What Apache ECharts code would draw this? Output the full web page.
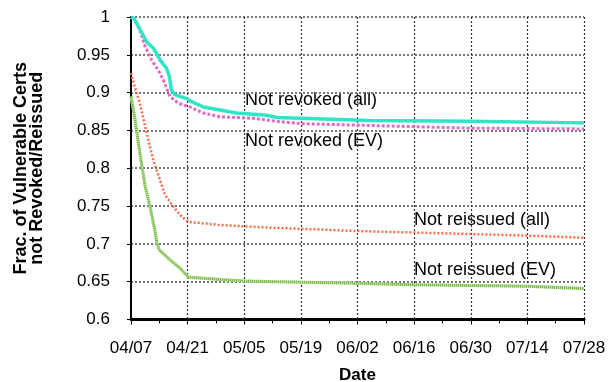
<!DOCTYPE html>
<html>
<head>
<meta charset="utf-8">
<script src="https://cdn.jsdelivr.net/npm/echarts@6/dist/echarts.min.js"></script>
<style>
  html, body { margin: 0; padding: 0; background: #fff; }
  #chart { width: 608px; height: 382px; }
</style>
</head>
<body>
<div id="chart"></div>
<script>
// days since 04/07 (x) and fraction still vulnerable (y)
const revokedAllDays = [0, 1, 3.9, 5.5, 6.3, 7.2, 8.8, 9.5, 10, 10.9, 13.8, 15, 17.9, 22, 26.1, 33.5, 36, 41.8, 59, 83.8, 112]
const revokedAllVals = [1.0, 0.996, 0.967, 0.959, 0.952, 0.943, 0.932, 0.921, 0.903, 0.897, 0.892, 0.888, 0.881, 0.877, 0.873, 0.870, 0.867, 0.866, 0.863, 0.862, 0.860]

const revokedEvDays = [0.4, 2.2, 3.5, 5.1, 6.7, 8, 9.6, 11.7, 14.6, 17.9, 22, 30.2, 36, 41.8, 69.8, 83.8, 112]
const revokedEvVals = [1.0, 0.983, 0.961, 0.943, 0.930, 0.917, 0.895, 0.886, 0.881, 0.873, 0.868, 0.866, 0.862, 0.859, 0.855, 0.853, 0.852]

const reissuedAllDays = [0, 1, 2.2, 3.3, 4.3, 5.5, 7.2, 8.4, 10.5, 12.5, 14.2, 22, 28.6, 36, 41.8, 55.8, 69.8, 97.8, 112]
const reissuedAllVals = [0.926, 0.906, 0.886, 0.860, 0.837, 0.811, 0.784, 0.765, 0.749, 0.736, 0.729, 0.725, 0.723, 0.721, 0.720, 0.717, 0.715, 0.711, 0.708]

const reissuedEvDays = [0, 1, 2.2, 3.5, 4.7, 5.9, 6.4, 7, 9.6, 12.1, 14.2, 22, 27.8, 36, 55.8, 69.8, 97.8, 112]
const reissuedEvVals = [0.895, 0.864, 0.820, 0.776, 0.749, 0.718, 0.701, 0.692, 0.679, 0.668, 0.656, 0.653, 0.651, 0.650, 0.648, 0.646, 0.644, 0.641]

const seriesLabels = ['Not revoked (all)', 'Not revoked (EV)', 'Not reissued (all)', 'Not reissued (EV)']

const FONT = '"Liberation Sans", Arial, Helvetica, sans-serif'

function pairs(xs, ys) {
  return xs.map((x, i) => [x, ys[i]])
}

function fmtDate(d) {
  const dt = new Date(2014, 3, 7 + Math.round(d))
  const mm = String(dt.getMonth() + 1).padStart(2, '0')
  const dd = String(dt.getDate()).padStart(2, '0')
  return mm + '/' + dd
}

const chart = echarts.init(document.getElementById('chart'), null, { renderer: 'canvas' })

const option = {
  animation: false,
  backgroundColor: '#fff',
  grid: { left: 131, right: 24, top: 17, bottom: 62.5, outerBoundsMode: 'none', containLabel: false },
  xAxis: {
    type: 'value',
    min: 0,
    max: 112,
    interval: 14,
    name: 'Date',
    nameLocation: 'middle',
    nameGap: 47,
    nameTextStyle: { fontFamily: FONT, fontSize: 17, fontWeight: 'bold', color: '#000' },
    axisLine: { show: true, onZero: false, lineStyle: { color: '#000', width: 3 } },
    axisTick: { show: true, length: 5, lineStyle: { color: '#000' } },
    minorTick: { show: true, splitNumber: 2, length: 4, lineStyle: { color: '#000' } },
    axisLabel: { fontFamily: FONT, fontSize: 17, color: '#000', margin: 20, formatter: fmtDate },
    splitLine: { show: true, showMinLine: false, lineStyle: { type: [2, 2], color: '#333', width: 1.2 } }
  },
  yAxis: {
    type: 'value',
    min: 0.6,
    max: 1,
    interval: 0.05,
    name: 'Frac. of Vulnerable Certs\nnot Revoked/Reissued',
    nameLocation: 'middle',
    nameGap: 86,
    nameTextStyle: { fontFamily: FONT, fontSize: 18, fontWeight: 'bold', color: '#000', lineHeight: 16, align: 'center' },
    axisLine: { show: true, onZero: false, lineStyle: { color: '#000', width: 2 } },
    axisTick: { show: true, length: 4, lineStyle: { color: '#000' } },
    axisLabel: {
      fontFamily: FONT, fontSize: 17, color: '#000', margin: 21,
      formatter: v => String(+v.toFixed(2))
    },
    splitLine: { show: true, showMinLine: false, lineStyle: { type: [2, 2], color: '#777', width: 2 } }
  },
  graphic: [
    { type: 'text', x: 245, y: 100, style: { text: seriesLabels[0], font: '18px ' + FONT, fill: '#000', textVerticalAlign: 'middle' } },
    { type: 'text', x: 245, y: 141.5, style: { text: seriesLabels[1], font: '18px ' + FONT, fill: '#000', textVerticalAlign: 'middle' } },
    { type: 'text', x: 414, y: 220, style: { text: seriesLabels[2], font: '18px ' + FONT, fill: '#000', textVerticalAlign: 'middle' } },
    { type: 'text', x: 414, y: 270.5, style: { text: seriesLabels[3], font: '18px ' + FONT, fill: '#000', textVerticalAlign: 'middle' } }
  ],
  series: [
    {
      name: seriesLabels[3] + ' band',
      type: 'line',
      data: pairs(reissuedEvDays, reissuedEvVals),
      showSymbol: false,
      lineStyle: { color: '#bfe3a6', width: 3 }
    },
    {
      name: seriesLabels[3],
      type: 'line',
      data: pairs(reissuedEvDays, reissuedEvVals),
      showSymbol: false,
      lineStyle: { color: '#72b83e', width: 3, type: [1, 1] }
    },
    {
      name: seriesLabels[2],
      type: 'line',
      data: pairs(reissuedAllDays, reissuedAllVals),
      showSymbol: false,
      lineStyle: { color: '#fb6a4c', width: 2.5, type: [2, 2] }
    },
    {
      name: seriesLabels[1],
      type: 'line',
      data: pairs(revokedEvDays, revokedEvVals),
      showSymbol: false,
      lineStyle: { color: '#e06cc6', width: 3, type: [3, 2] }
    },
    {
      name: seriesLabels[0],
      type: 'line',
      data: pairs(revokedAllDays, revokedAllVals),
      showSymbol: false,
      lineStyle: { color: '#2ee6c6', width: 3.5 }
    }
  ]
}

chart.setOption(option)
</script>
</body>
</html>
